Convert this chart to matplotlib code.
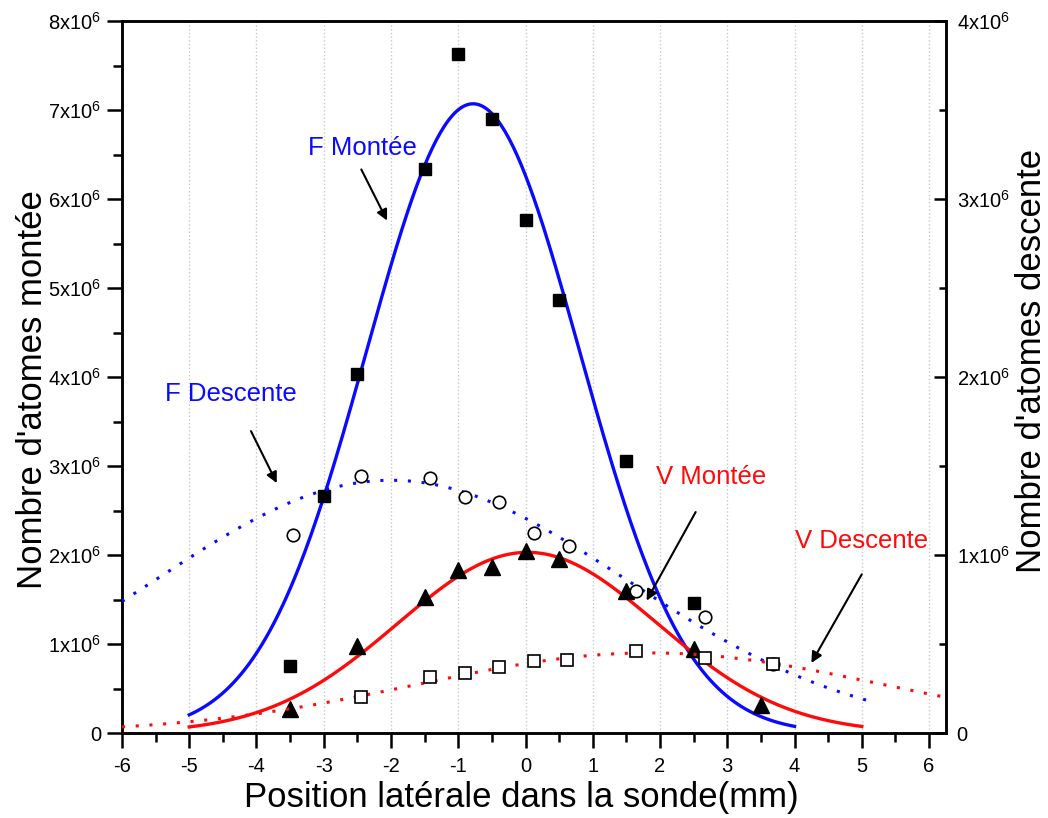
import numpy as np
import matplotlib.pyplot as plt
from matplotlib.ticker import MultipleLocator, FuncFormatter

plt.rcParams['font.family'] = ['Liberation Sans', 'DejaVu Sans']
plt.rcParams['mathtext.fontset'] = 'custom'
plt.rcParams['mathtext.rm'] = 'Liberation Sans'
plt.rcParams['mathtext.it'] = 'Liberation Sans:italic'
plt.rcParams['mathtext.bf'] = 'Liberation Sans:bold'

# measured points (montée -> left axis, descente -> right axis)
x_f_montee = [-3.5, -3, -2.5, -1.5, -1, -0.5, 0, 0.5, 1.5, 2.5]
f_montee = [0.75e6, 2.66e6, 4.03e6, 6.34e6, 7.63e6, 6.90e6, 5.76e6, 4.86e6, 3.06e6, 1.46e6]

x_v_montee = [-3.5, -2.5, -1.5, -1, -0.5, 0, 0.5, 1.5, 2.5, 3.5]
v_montee = [0.27e6, 0.98e6, 1.53e6, 1.83e6, 1.87e6, 2.05e6, 1.95e6, 1.60e6, 0.94e6, 0.31e6]

x_f_descente = [-3.46, -2.44, -1.42, -0.90, -0.39, 0.12, 0.64, 1.65, 2.67, 3.68]
f_descente = [1.11e6, 1.445e6, 1.435e6, 1.325e6, 1.30e6, 1.125e6, 1.052e6, 0.80e6, 0.65e6, 0.39e6]

x_v_descente = [-2.44, -1.42, -0.90, -0.39, 0.12, 0.62, 1.64, 2.67, 3.68]
v_descente = [0.204e6, 0.316e6, 0.339e6, 0.372e6, 0.404e6, 0.41e6, 0.462e6, 0.42e6, 0.388e6]

# gaussian fits: (centre, amplitude, sigma, x start, x end)
fit_f_montee = (-0.78, 7.07e6, 1.585, -5.0, 4.0)
fit_v_montee = (0.03, 2.03e6, 1.93, -5.0, 5.0)
fit_f_descente = (-2.0, 1.42e6, 3.5, -6.0, 5.1)
fit_v_descente = (1.85, 0.45e6, 3.46, -6.0, 6.25)


def gauss_curve(fit):
    xc, amp, sig, x0, x1 = fit
    xs = np.linspace(x0, x1, 300)
    return xs, amp * np.exp(-(xs - xc) ** 2 / (2 * sig ** 2))


def sci_fmt(v, pos):
    if v == 0:
        return '0'
    return '%dx10$^{6}$' % round(v / 1e6)


fig = plt.figure(figsize=(10.48, 8.18), dpi=100)
ax = fig.add_axes([0.1164, 0.1039, 0.7858, 0.8704])
ax2 = ax.twinx()

dotted = (0, (1, 3.5))

# fitted curves
xs, ys = gauss_curve(fit_f_montee)
ax.plot(xs, ys, color='#0a0aff', lw=2.4, zorder=3)
xs, ys = gauss_curve(fit_v_montee)
ax.plot(xs, ys, color='#ff0a0a', lw=2.4, zorder=3)
xs, ys = gauss_curve(fit_f_descente)
ax2.plot(xs, ys, color='#0a0aff', lw=2.2, linestyle=dotted, zorder=3)
xs, ys = gauss_curve(fit_v_descente)
ax2.plot(xs, ys, color='#ff0a0a', lw=2.2, linestyle=dotted, zorder=3)

# points
ax.plot(x_f_montee, f_montee, 's', color='black', ms=8.8, zorder=4)
ax.plot(x_v_montee, v_montee, '^', color='black', ms=11, zorder=4)
ax2.plot(x_f_descente, f_descente, 'o', mfc='white', mec='black', mew=1.2, ms=9, zorder=4)
ax2.plot(x_v_descente, v_descente, 's', mfc='white', mec='black', mew=1.2, ms=8.4, zorder=4)

ax.set_xlim(-6, 6.245)
ax.set_ylim(0, 8e6)
ax2.set_ylim(0, 4e6)

ax.xaxis.set_major_locator(MultipleLocator(1))
ax.xaxis.set_minor_locator(MultipleLocator(0.5))
ax.yaxis.set_major_locator(MultipleLocator(1e6))
ax.yaxis.set_minor_locator(MultipleLocator(0.5e6))
ax2.yaxis.set_major_locator(MultipleLocator(1e6))
ax2.yaxis.set_minor_locator(MultipleLocator(0.5e6))
ax.yaxis.set_major_formatter(FuncFormatter(sci_fmt))
ax2.yaxis.set_major_formatter(FuncFormatter(sci_fmt))
ax.xaxis.set_major_formatter(FuncFormatter(lambda v, p: '%d' % v))

ax.grid(axis='x', color='#c8c8c8', linestyle=':', lw=1)

ax.tick_params(axis='x', which='major', direction='out', length=11, width=1.8, labelsize=14.5, pad=6)
ax.tick_params(axis='x', which='minor', direction='out', length=6.5, width=1.8)
ax.tick_params(axis='y', which='major', direction='out', length=11, width=1.8, labelsize=14.5, pad=4)
ax.tick_params(axis='y', which='minor', direction='out', length=6.5, width=1.8)
ax2.tick_params(axis='y', which='major', direction='in', length=9, width=1.8, labelsize=14.5, pad=8)
ax2.tick_params(axis='y', which='minor', direction='in', length=5, width=1.8)

for a in (ax, ax2):
    for s in a.spines.values():
        s.set_linewidth(1.8)

ax.set_xlabel('Position latérale dans la sonde(mm)', fontsize=25)
ax.set_ylabel("Nombre d'atomes montée", fontsize=25)
ax2.set_ylabel("Nombre d'atomes descente", fontsize=25)
ax.xaxis.set_label_coords(0.485, -0.068)
ax.yaxis.set_label_coords(-0.089, 0.483)
ax2.yaxis.set_label_coords(1.084, 0.522)

# annotations
ax.text(-2.42, 6.57e6, 'F Montée', color='#0a0aff', fontsize=18.5, ha='center', va='center')
ax.annotate('', xy=(-2.04, 5.73e6), xytext=(-2.46, 6.36e6),
            arrowprops=dict(arrowstyle='-|>', color='black', lw=1.5, mutation_scale=16))
ax.text(-4.38, 3.81e6, 'F Descente', color='#0a0aff', fontsize=18.5, ha='center', va='center')
ax.annotate('', xy=(-3.68, 2.78e6), xytext=(-4.10, 3.42e6),
            arrowprops=dict(arrowstyle='-|>', color='black', lw=1.5, mutation_scale=16))
ax.text(2.76, 2.88e6, 'V Montée', color='#ff0a0a', fontsize=18.5, ha='center', va='center')
ax.annotate('', xy=(1.78, 1.46e6), xytext=(2.55, 2.51e6),
            arrowprops=dict(arrowstyle='-|>', color='black', lw=1.5, mutation_scale=16))
ax.text(4.99, 2.16e6, 'V Descente', color='#ff0a0a', fontsize=18.5, ha='center', va='center')
ax.annotate('', xy=(4.23, 0.76e6), xytext=(5.02, 1.81e6),
            arrowprops=dict(arrowstyle='-|>', color='black', lw=1.5, mutation_scale=16))

fig.savefig('out.png', dpi=100)
